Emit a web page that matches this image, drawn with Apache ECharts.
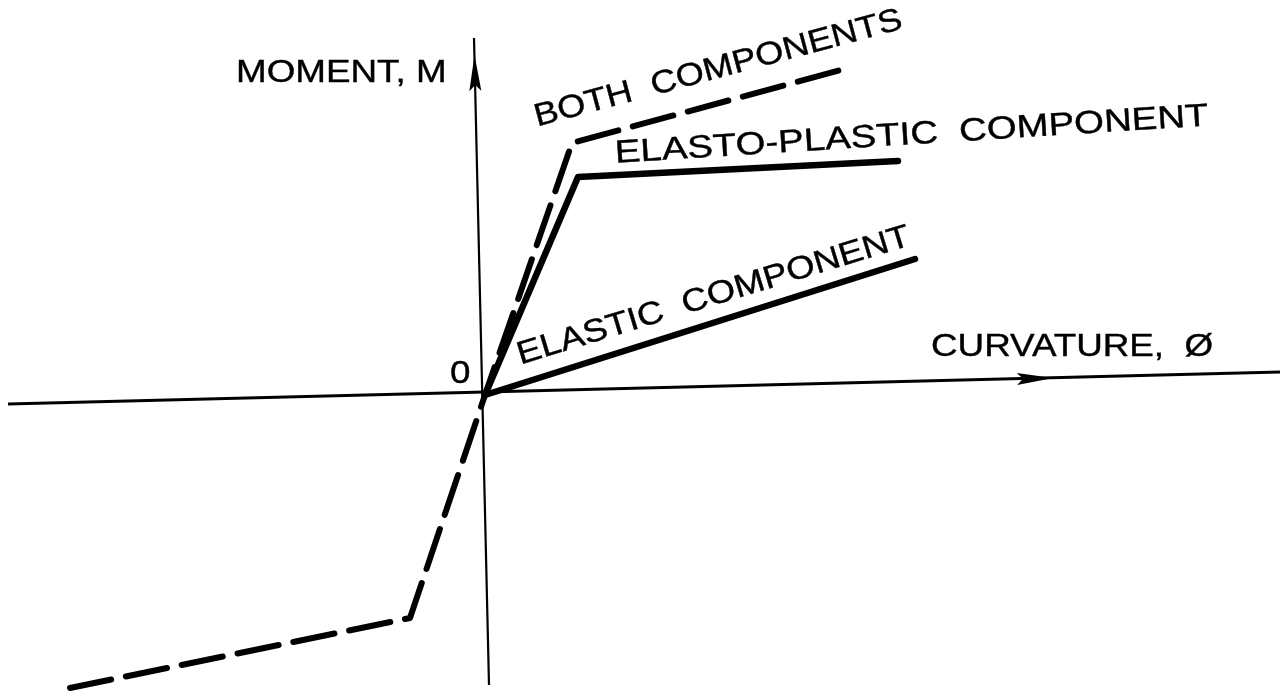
<!DOCTYPE html>
<html><head><meta charset="utf-8">
<script src="https://cdn.jsdelivr.net/npm/echarts@6/dist/echarts.min.js"></script>
<style>html,body{margin:0;padding:0;background:#fff}#c{width:1286px;height:693px}</style>
</head><body><div id="c"></div>
<script>
// Schematic moment–curvature relationship (arbitrary units, origin at axes crossing)
const elasticComponent = [[0, 0], [4.30, 1.36]];
const elastoPlasticComponent = [[0, 0], [0.93, 2.18], [4.13, 2.34]];
const bothComponents = [[-4.15, -2.93], [-0.75, -2.23], [0, 0], [0.87, 2.52], [3.63, 3.27]];
// axis lines as drawn (slightly skewed in the original scan)
const curvatureAxis = [[-4.77, -0.09], [7.95, 0.23]];
const momentAxis = [[0.04, -2.90], [-0.11, 3.57]];
// arrow heads: [tipX, tipY, tailRefX, tailRefY]
const arrowHeads = [[5.68, 0.17, -4.77, -0.09], [-0.105, 3.40, 0.04, -2.90]];

const labelTexts = {
  moment: 'MOMENT, M',
  curvature: 'CURVATURE,  Ø',
  zero: '0',
  both: 'BOTH  COMPONENTS',
  elastoPlastic: 'ELASTO-PLASTIC  COMPONENT',
  elastic: 'ELASTIC  COMPONENT'
};

const FONT = 'normal 32px "Liberation Sans", Arial, Helvetica, sans-serif';
function label(text, x, y, deg, sx) {
  return {
    type: 'text', x: x, y: y, rotation: deg * Math.PI / 180, scaleX: sx, z: 10,
    style: { text: text, font: FONT, fill: '#000', stroke: '#000', lineWidth: 0.4, textAlign: 'left', textVerticalAlign: 'middle', align: 'left', verticalAlign: 'middle' }
  };
}

const chart = echarts.init(document.getElementById('c'), null, { renderer: 'canvas' });
chart.setOption({
  animation: false,
  backgroundColor: '#fff',
  grid: { left: 0, right: 0, top: 0, bottom: 0 },
  xAxis: { type: 'value', min: -4.85, max: 8.01, show: false },
  yAxis: { type: 'value', min: -2.98, max: 3.95, show: false },
  series: [
    { type: 'line', data: curvatureAxis, symbol: 'none', lineStyle: { color: '#000', width: 3 } },
    { type: 'line', data: momentAxis, symbol: 'none', lineStyle: { color: '#000', width: 2.2 } },
    { type: 'line', data: elasticComponent, symbol: 'none', lineStyle: { color: '#000', width: 6.5, cap: 'round', join: 'round' } },
    { type: 'line', data: elastoPlasticComponent, symbol: 'none', lineStyle: { color: '#000', width: 6.5, cap: 'round', join: 'round' } },
    { type: 'line', data: bothComponents, symbol: 'none', lineStyle: { color: '#000', width: 6, type: [42, 15], cap: 'round', join: 'round' } },
    {
      type: 'custom', data: arrowHeads, encode: { x: 0, y: 1 },
      renderItem: function (params, api) {
        const tip = api.coord([api.value(0), api.value(1)]);
        const from = api.coord([api.value(2), api.value(3)]);
        let dx = tip[0] - from[0], dy = tip[1] - from[1];
        const L = Math.hypot(dx, dy); dx /= L; dy /= L;
        const len = 36, half = 6, notch = 30;
        const nx = -dy, ny = dx;
        const bx = tip[0] - dx * len, by = tip[1] - dy * len;
        const mx = tip[0] - dx * notch, my = tip[1] - dy * notch;
        return {
          type: 'polygon',
          shape: { points: [tip, [bx + nx * half, by + ny * half], [mx, my], [bx - nx * half, by - ny * half]] },
          style: { fill: '#000' }
        };
      }
    }
  ],
  graphic: { elements: [
    label(labelTexts.moment, 236, 73, 0, 1.15),
    label(labelTexts.curvature, 931, 347, 0, 1.15),
    label(labelTexts.zero, 450, 374, 0, 1.15),
    label(labelTexts.both, 535, 118, 15, 1.13),
    label(labelTexts.elastoPlastic, 615, 154, 3.6, 1.2),
    label(labelTexts.elastic, 518, 356, 17, 1.14)
  ] }
});
</script></body></html>
